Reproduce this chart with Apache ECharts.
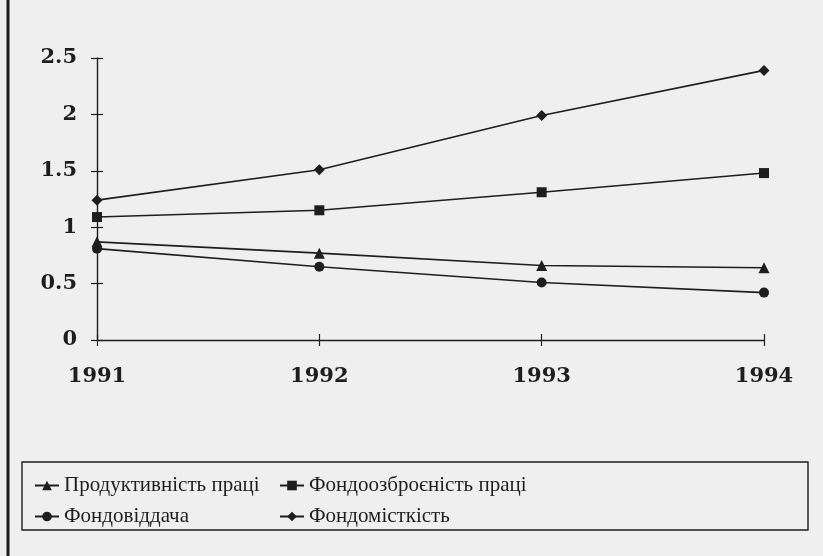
<!DOCTYPE html>
<html>
<head>
<meta charset="utf-8">
<script src="https://cdn.jsdelivr.net/npm/echarts@6/dist/echarts.min.js"></script>
<style>
  html, body { margin: 0; padding: 0; background: #efefef; }
  #chart { width: 823px; height: 556px; }
</style>
</head>
<body>
<div id="chart"></div>
<script>
const years = ['1991', '1992', '1993', '1994']
const productivity = [0.87, 0.77, 0.66, 0.64]     // Продуктивність праці
const capitalLabour = [1.09, 1.15, 1.31, 1.48]    // Фондоозброєність праці
const capitalReturn = [0.81, 0.65, 0.51, 0.42]    // Фондовіддача
const capitalIntensity = [1.24, 1.51, 1.99, 2.39] // Фондомісткість

const ink = '#1e1e1e'
const serif = '"DejaVu Serif", "Liberation Serif", serif'

const makeSeries = (name, data, symbol, size) => ({
  name,
  type: 'line',
  data,
  symbol,
  symbolSize: size,
  lineStyle: { color: ink, width: 1.6 },
  itemStyle: { color: ink },
  z: 3
})

// two copies of each axis so the ticks cross the axis line
const axisX = (inside) => ({
  type: 'category',
  position: 'bottom',
  data: years,
  boundaryGap: false,
  axisLine: { show: !inside, lineStyle: { color: ink, width: 1.4 } },
  axisTick: { show: true, inside, length: 6, alignWithLabel: true, lineStyle: { color: ink, width: 1.2 } },
  axisLabel: {
    show: !inside, margin: 26, color: ink,
    fontFamily: serif, fontWeight: 'bold', fontSize: 21
  },
  splitLine: { show: false }
})

const axisY = (inside) => ({
  type: 'value',
  position: 'left',
  min: 0, max: 2.5, interval: 0.5,
  axisLine: { show: !inside, lineStyle: { color: ink, width: 1.4 } },
  axisTick: { show: true, inside, length: 6, lineStyle: { color: ink, width: 1.2 } },
  axisLabel: {
    show: !inside, margin: 20, color: ink,
    fontFamily: serif, fontWeight: 'bold', fontSize: 21
  },
  splitLine: { show: false }
})

const legendBase = {
  orient: 'vertical',
  top: 469,
  itemWidth: 24,
  itemHeight: 12,
  itemGap: 8,
  textStyle: { color: ink, fontFamily: '"Liberation Serif", serif', fontSize: 21, lineHeight: 23 },
  inactiveColor: ink
}

const chart = echarts.init(document.getElementById('chart'))
chart.setOption({
  backgroundColor: '#efefef',
  animation: false,
  grid: { left: 97, right: 59, top: 58, bottom: 216 },
  xAxis: [axisX(false), axisX(true)],
  yAxis: [axisY(false), axisY(true)],
  legend: [
    Object.assign({}, legendBase, { left: 29, data: ['Продуктивність праці', 'Фондовіддача'] }),
    Object.assign({}, legendBase, { left: 274, data: ['Фондоозброєність праці', 'Фондомісткість'] })
  ],
  graphic: [
    {
      type: 'rect',
      shape: { x: 22, y: 462, width: 786, height: 68 },
      style: { fill: 'none', stroke: ink, lineWidth: 1.4 }
    },
    {
      type: 'line',
      shape: { x1: 8, y1: 0, x2: 8, y2: 556 },
      style: { stroke: ink, lineWidth: 3 }
    }
  ],
  series: [
    makeSeries('Продуктивність праці', productivity, 'triangle', 11),
    makeSeries('Фондоозброєність праці', capitalLabour, 'rect', 10),
    makeSeries('Фондовіддача', capitalReturn, 'circle', 10),
    makeSeries('Фондомісткість', capitalIntensity, 'diamond', 11)
  ]
})
</script>
</body>
</html>
